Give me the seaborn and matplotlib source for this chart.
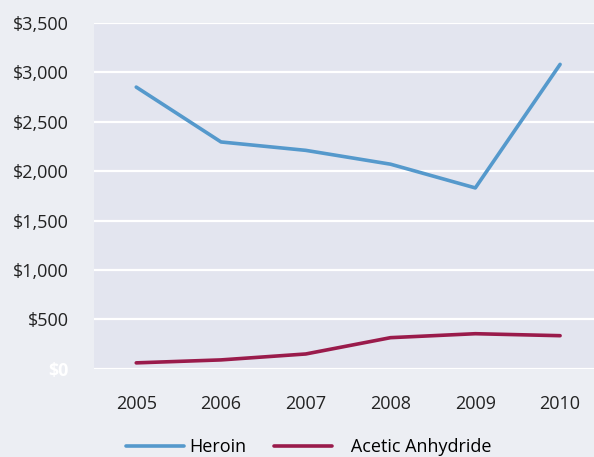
import matplotlib
matplotlib.use("Agg")
import matplotlib.pyplot as plt
import seaborn as sns
import pandas as pd

years = [2005, 2006, 2007, 2008, 2009, 2010]
heroin = [2850, 2295, 2210, 2070, 1830, 3080]
acetic_anhydride = [60, 90, 150, 315, 355, 335]
series_names = ["Heroin", "Acetic Anhydride"]
y_ticks = [0, 500, 1000, 1500, 2000, 2500, 3000, 3500]

df = pd.DataFrame({
    "Year": years * 2,
    "Price": heroin + acetic_anhydride,
    "Series": [series_names[0]] * len(years) + [series_names[1]] * len(years),
})

sns.set_theme(style="darkgrid")
plt.rcParams["font.family"] = ["Open Sans", "DejaVu Sans"]

fig = plt.figure(figsize=(5.94, 4.57), dpi=100, facecolor="#eceef3")
ax = fig.add_axes([0.158, 0.193, 0.842, 0.757])
ax.set_facecolor("#e3e5ef")

colors = ["#5599cc", "#9a1b4b"]
sns.lineplot(data=df, x="Year", y="Price", hue="Series",
             palette=colors, linewidth=2.6, ax=ax, legend=False)

ax.set_xlim(2004.5, 2010.4)
ax.set_ylim(0, 3500)
ax.set_xticks(years)
ax.set_xticklabels([str(y) for y in years], fontsize=13, color="#222222")
ax.set_yticks(y_ticks)
labels = ax.set_yticklabels([f"${v:,}" for v in y_ticks], fontsize=13, color="#222222")
labels[0].set_color("white")
labels[0].set_fontweight("bold")
ax.tick_params(axis="x", pad=13)
ax.tick_params(axis="y", pad=12)
ax.grid(axis="x", visible=False)
ax.grid(axis="y", color="white", linewidth=1.6)
ax.set_xlabel("")
ax.set_ylabel("")
for s in ax.spines.values():
    s.set_visible(False)

handles = [plt.Line2D([], [], color=c, linewidth=2.6) for c in colors]
leg_labels = [series_names[0], "   " + series_names[1]]
fig.legend(handles, leg_labels, loc="center", bbox_to_anchor=(0.52, 0.022),
           ncol=2, frameon=False, fontsize=13, handlelength=3.2,
           columnspacing=1.5, handletextpad=0.3, labelcolor="black")

fig.savefig("out.png", dpi=100, facecolor=fig.get_facecolor())
